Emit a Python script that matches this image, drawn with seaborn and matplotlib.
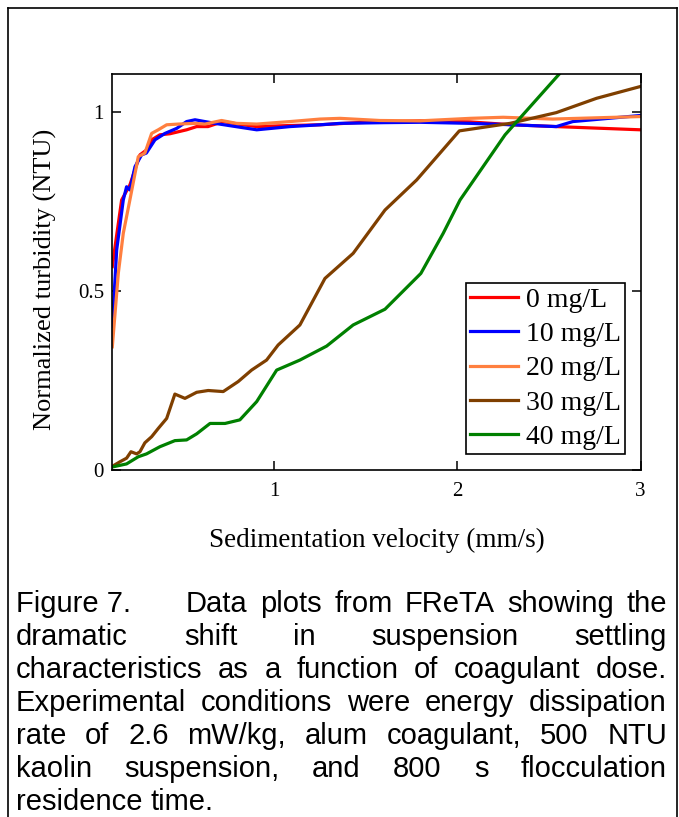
import numpy as np
import pandas as pd
import matplotlib
matplotlib.use("Agg")
import matplotlib.pyplot as plt
import seaborn as sns
from matplotlib import font_manager
from matplotlib.lines import Line2D

# Datos (velocidad de sedimentacion vs turbidez normalizada)
red_x = [0.114, 0.128, 0.165, 0.21, 0.265, 0.302, 0.329, 0.374, 0.429, 0.52, 0.575, 0.637, 0.719, 0.80, 0.903, 1.085, 1.249, 1.45, 1.795, 2.07, 2.30, 2.54, 3.0]
red_y = [0.568, 0.62, 0.754, 0.796, 0.88, 0.894, 0.922, 0.936, 0.939, 0.95, 0.959, 0.959, 0.973, 0.966, 0.959, 0.962, 0.964, 0.970, 0.975, 0.972, 0.964, 0.959, 0.95]

blue_x = [0.114, 0.138, 0.174, 0.192, 0.21, 0.238, 0.274, 0.30, 0.347, 0.402, 0.466, 0.52, 0.566, 0.62, 0.675, 0.75, 0.903, 1.085, 1.249, 1.358, 1.6, 1.795, 2.07, 2.30, 2.54, 2.63, 3.0]
blue_y = [0.40, 0.615, 0.754, 0.791, 0.782, 0.847, 0.88, 0.885, 0.922, 0.94, 0.954, 0.973, 0.978, 0.973, 0.968, 0.962, 0.950, 0.959, 0.964, 0.968, 0.970, 0.971, 0.968, 0.964, 0.959, 0.973, 0.99]

orange_x = [0.114, 0.147, 0.174, 0.21, 0.256, 0.292, 0.329, 0.365, 0.411, 0.474, 0.566, 0.62, 0.711, 0.793, 0.903, 1.085, 1.249, 1.358, 1.576, 1.795, 2.07, 2.25, 2.52, 3.0]
orange_y = [0.344, 0.55, 0.661, 0.754, 0.875, 0.885, 0.94, 0.95, 0.964, 0.966, 0.968, 0.966, 0.976, 0.968, 0.966, 0.973, 0.98, 0.982, 0.976, 0.975, 0.982, 0.985, 0.98, 0.987]

brown_x = [0.11, 0.156, 0.192, 0.216, 0.247, 0.265, 0.292, 0.329, 0.365, 0.411, 0.456, 0.511, 0.575, 0.638, 0.72, 0.802, 0.875, 0.957, 1.02, 1.139, 1.276, 1.43, 1.604, 1.777, 2.01, 2.287, 2.54, 2.76, 3.0]
brown_y = [0.009, 0.023, 0.033, 0.051, 0.045, 0.051, 0.076, 0.093, 0.116, 0.144, 0.212, 0.200, 0.217, 0.222, 0.219, 0.247, 0.279, 0.307, 0.349, 0.405, 0.535, 0.605, 0.726, 0.81, 0.947, 0.968, 0.998, 1.038, 1.071]

green_x = [0.11, 0.192, 0.256, 0.301, 0.374, 0.456, 0.52, 0.575, 0.648, 0.73, 0.811, 0.903, 1.012, 1.139, 1.285, 1.43, 1.604, 1.80, 1.922, 2.014, 2.26, 2.56]
green_y = [0.008, 0.017, 0.037, 0.045, 0.065, 0.082, 0.084, 0.101, 0.130, 0.130, 0.140, 0.191, 0.279, 0.307, 0.346, 0.405, 0.449, 0.549, 0.661, 0.754, 0.936, 1.108]

doses = ['0 mg/L', '10 mg/L', '20 mg/L', '30 mg/L', '40 mg/L']
colors = ['#ff0000', '#0000ff', '#ff7f3f', '#7f3f00', '#008000']

x_ticks = [1, 2, 3]
y_ticks = [0, 0.5, 1]
y_tick_labels = ['0', '0.5', '1']

caption_lines = [
    "dramatic shift in suspension settling",
    "characteristics as a function of coagulant dose.",
    "Experimental conditions were energy dissipation",
    "rate of 2.6 mW/kg, alum coagulant, 500 NTU",
    "kaolin suspension, and 800 s flocculation",
    "residence time.",
]

# DataFrame largo para seaborn
series = [(red_x, red_y), (blue_x, blue_y), (orange_x, orange_y), (brown_x, brown_y), (green_x, green_y)]
frames = []
for dose, (xs, ys) in zip(doses, series):
    frames.append(pd.DataFrame({'vel': xs, 'turb': ys, 'dose': dose}))
df = pd.concat(frames, ignore_index=True)

serif = ['Liberation Serif', 'DejaVu Serif']
available = {f.name for f in font_manager.fontManager.ttflist}
cap_font = 'Liberation Sans Narrow' if 'Liberation Sans Narrow' in available else 'Liberation Sans'

W, H = 679, 817
fig = plt.figure(figsize=(W / 100, H / 100), dpi=100)
ax = fig.add_axes([112.3 / W, 1 - 470 / H, (640.5 - 112.3) / W, (470 - 74.3) / H])

sns.lineplot(data=df, x='vel', y='turb', hue='dose', palette=dict(zip(doses, colors)),
             estimator=None, sort=False, linewidth=2.3, ax=ax, legend=False)

ax.set_xlim(0.114, 3.0)
ax.set_ylim(0, 1.105)
ax.set_xticks(x_ticks)
ax.set_xticklabels([str(t) for t in x_ticks])
ax.set_yticks(y_ticks)
ax.set_yticklabels(y_tick_labels)
ax.tick_params(direction='in', length=6.5, width=1.1, top=True, right=True,
               labelsize=15, colors='black')
ax.tick_params(axis='x', pad=9)
ax.tick_params(axis='y', pad=6)
for lab in ax.get_xticklabels() + ax.get_yticklabels():
    lab.set_family(serif)
for sp in ax.spines.values():
    sp.set_linewidth(1.2)
    sp.set_color('black')

ax.set_xlabel('Sedimentation velocity (mm/s)', family=serif, fontsize=19.5)
ax.set_ylabel('Normalized turbidity (NTU)', family=serif, fontsize=19)
ax.xaxis.set_label_coords(0.5, -0.177)
ax.xaxis.label.set_verticalalignment('center')
ax.yaxis.set_label_coords(-0.1274, 0.483)
ax.yaxis.label.set_verticalalignment('center')

handles = [Line2D([], [], color=c, linewidth=2.3) for c in colors]
leg = ax.legend(handles, doses, loc='upper right', bbox_to_anchor=(0.971, 0.4726),
                borderaxespad=0, fancybox=False, framealpha=1, edgecolor='black',
                prop={'family': serif, 'size': 20}, handlelength=1.7, handletextpad=0.3,
                labelspacing=0.32, borderpad=0.15)
leg.get_frame().set_linewidth(1.2)

# Marco exterior
fig.add_artist(Line2D([8 / W, 8 / W], [0, 1 - 8 / H], transform=fig.transFigure, color='black', lw=1.2))
fig.add_artist(Line2D([8 / W, 677 / W], [1 - 8 / H, 1 - 8 / H], transform=fig.transFigure, color='black', lw=1.2))
fig.add_artist(Line2D([677 / W, 677 / W], [0, 1 - 8 / H], transform=fig.transFigure, color='black', lw=1.2))

# Pie de figura justificado
cap_size = 21
left_px, right_px = 16, 667
fig.canvas.draw()
renderer = fig.canvas.get_renderer()


def place_justified(words, x0, x1, y_px, justify=True):
    texts = [fig.text(0, 1 - y_px / H, w, family=cap_font, fontsize=cap_size, va='baseline')
             for w in words]
    widths = [t.get_window_extent(renderer).width for t in texts]
    if justify and len(words) > 1:
        gap = (x1 - x0 - sum(widths)) / (len(words) - 1)
    else:
        gap = fig.text(0, 0, ' ', family=cap_font, fontsize=cap_size).get_window_extent(renderer).width
    x = x0
    for t, w in zip(texts, widths):
        t.set_x(x / W)
        x += w + gap


base0 = 612
step = 33
fig.text(left_px / W, 1 - base0 / H, 'Figure 7.', family=cap_font, fontsize=cap_size, va='baseline')
place_justified("Data plots from FReTA showing the".split(), 186, right_px, base0)
for i, line in enumerate(caption_lines):
    last = i == len(caption_lines) - 1
    place_justified(line.split(), left_px, right_px, base0 + step * (i + 1), justify=not last)

fig.savefig('out.png', dpi=100)
